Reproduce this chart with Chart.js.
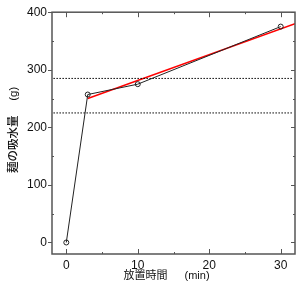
<!DOCTYPE html>
<html>
<head>
<meta charset="utf-8">
<script src="https://cdn.jsdelivr.net/npm/chart.js@4"></script>
<style>
  html, body { margin: 0; padding: 0; background: #fff; }
  #wrap { width: 300px; height: 292px; }
</style>
</head>
<body>
<div id="wrap"><canvas id="soakChart" width="300" height="292"></canvas></div>
<script>
// measured points: standing time (min) vs water absorbed by noodles (g)
const timeMin = [0, 3, 10, 30];
const waterG = [0, 257, 275, 375];

// red fitted line
const fitX = [3, 32];
const fitY = [250, 380];

// dotted reference levels
const levelX = [-1.8, 31.6];
const upperLevel = 285;
const lowerLevel = 225;

// axis ticks
const xTicks = [0, 10, 20, 30];
const xMinor = [5, 15, 25];
const yTicks = [0, 100, 200, 300, 400];
const yMinor = [50, 150, 250, 350];

const toPts = (xs, ys) => xs.map((x, i) => ({ x: x, y: ys[i] }));
const levelPts = v => levelX.map(x => ({ x: x, y: v }));

// frame + inward/outward tick marks, placed through the chart's scales
const frameTicks = {
  id: 'frameTicks',
  afterDraw(chart) {
    const { ctx, chartArea: a, scales: { x, y } } = chart;
    ctx.save();
    ctx.strokeStyle = '#555';
    ctx.lineWidth = 1.5;
    ctx.strokeRect(a.left, a.top, a.right - a.left, a.bottom - a.top);
    ctx.lineWidth = 1;
    ctx.beginPath();
    xTicks.forEach(v => {
      const px = Math.round(x.getPixelForValue(v)) + 0.5;
      ctx.moveTo(px, a.bottom); ctx.lineTo(px, a.bottom - 5);
      ctx.moveTo(px, a.top); ctx.lineTo(px, a.top + 5);
    });
    xMinor.forEach(v => {
      const px = Math.round(x.getPixelForValue(v)) + 0.5;
      ctx.moveTo(px, a.bottom); ctx.lineTo(px, a.bottom - 2);
      ctx.moveTo(px, a.top); ctx.lineTo(px, a.top + 2);
    });
    yTicks.forEach(v => {
      const py = Math.round(y.getPixelForValue(v)) + 0.5;
      ctx.moveTo(a.left - 4, py); ctx.lineTo(a.left, py);
      ctx.moveTo(a.right, py); ctx.lineTo(a.right - 4, py);
    });
    yMinor.forEach(v => {
      const py = Math.round(y.getPixelForValue(v)) + 0.5;
      ctx.moveTo(a.left, py); ctx.lineTo(a.left + 2, py);
      ctx.moveTo(a.right, py); ctx.lineTo(a.right - 2, py);
    });
    ctx.stroke();
    ctx.restore();
  }
};

const tickFont = { family: "'Liberation Sans', Arial, sans-serif", size: 12 };
const titleFont = { family: "'Liberation Sans', 'Noto Sans CJK JP', sans-serif", size: 11 };
const yTitleFont = { family: "'Liberation Sans', 'Noto Sans CJK JP', sans-serif", size: 11.5, weight: '500' };

new Chart(document.getElementById('soakChart').getContext('2d'), {
  type: 'scatter',
  data: {
    datasets: [
      { label: 'upper', data: levelPts(upperLevel), showLine: true, borderColor: '#000',
        borderWidth: 1, borderDash: [1.5, 1.5], pointRadius: 0 },
      { label: 'lower', data: levelPts(lowerLevel), showLine: true, borderColor: '#000',
        borderWidth: 1, borderDash: [1.5, 1.5], pointRadius: 0 },
      { label: 'measured', data: toPts(timeMin, waterG), showLine: true, borderColor: '#222',
        borderWidth: 1, pointRadius: 2.5, pointBorderWidth: 1, pointBorderColor: '#222',
        pointBackgroundColor: 'rgba(0,0,0,0)' },
      { label: 'fit', data: toPts(fitX, fitY), showLine: true, borderColor: '#ff0000',
        borderWidth: 1.5, pointRadius: 0 }
    ]
  },
  options: {
    responsive: false,
    animation: false,
    layout: { padding: { top: 9, right: 4, left: 0, bottom: 0 } },
    plugins: { legend: { display: false }, tooltip: { enabled: false } },
    scales: {
      x: {
        type: 'linear', min: -2, max: 32,
        afterBuildTicks: s => { s.ticks = xTicks.map(v => ({ value: v })); },
        afterFit: s => { s.height = 38; },
        grid: { display: false, drawTicks: false }, border: { display: false },
        ticks: { font: tickFont, color: '#111', padding: 4, maxRotation: 0 },
        title: { display: true, text: '放置時間　  (min)　 ', font: titleFont, color: '#111',
          padding: { top: 0, bottom: 9 } }
      },
      y: {
        type: 'linear', min: -20, max: 400,
        afterBuildTicks: s => { s.ticks = yTicks.map(v => ({ value: v })); },
        afterFit: s => { s.width = 52; },
        grid: { display: false, drawTicks: false }, border: { display: false },
        ticks: { font: tickFont, color: '#111', padding: 5 },
        title: { display: true, text: '  麺の吸水量　 (g)', font: yTitleFont, color: '#111',
          padding: { top: 7, bottom: 0 } }
      }
    }
  },
  plugins: [frameTicks]
});
</script>
</body>
</html>
